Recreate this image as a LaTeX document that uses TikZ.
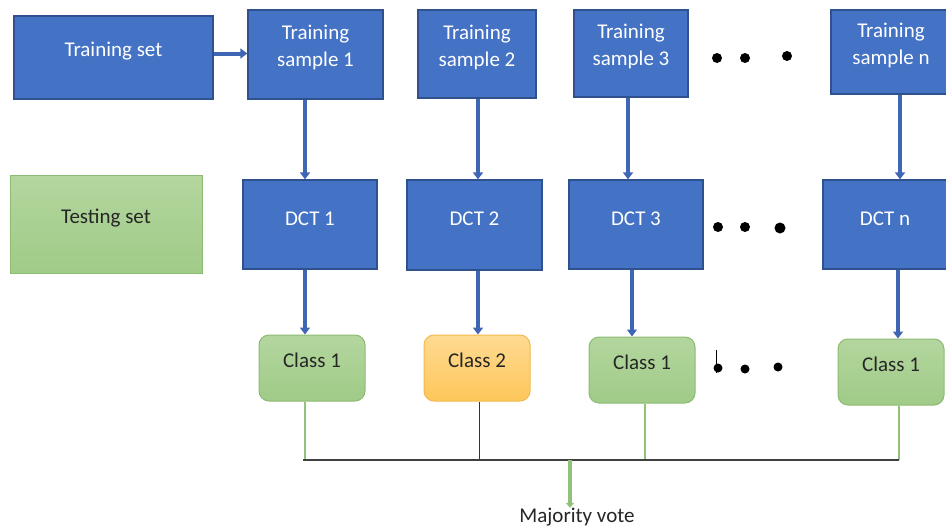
\documentclass[tikz,border=0pt]{standalone}
\usepackage{fontspec}
\setmainfont{Carlito}
\usetikzlibrary{arrows.meta}
\definecolor{bfill}{HTML}{4472C4}
\definecolor{bdraw}{HTML}{2F528F}
\definecolor{barr}{HTML}{3F66B5}
\definecolor{gtop}{HTML}{B3D69E}
\definecolor{gbot}{HTML}{A0CB88}
\definecolor{gdraw}{HTML}{8DBB72}
\definecolor{otop}{HTML}{FFDA92}
\definecolor{obot}{HTML}{FDC75A}
\definecolor{odraw}{HTML}{F2BA4C}
\definecolor{gline}{HTML}{92C27A}
\tikzset{
  bluebox/.style={draw=bdraw, line width=1.3pt, fill=bfill, inner sep=0pt},
  testbox/.style={draw=gdraw, line width=0.8pt, top color=gtop, bottom color=gbot, inner sep=0pt},
  greenbox/.style={draw=gdraw, line width=1pt, top color=gtop, bottom color=gbot, rounded corners=10pt, inner sep=0pt},
  orangebox/.style={draw=odraw, line width=1pt, top color=otop, bottom color=obot, rounded corners=10pt, inner sep=0pt},
  wtxt/.style={text=white, align=center, font=\fontsize{21}{27}\selectfont, inner sep=0pt},
  dtxt/.style={text=black!85, align=center, font=\fontsize{21}{27}\selectfont, inner sep=0pt},
  barrow/.style={draw=barr, line width=4pt, -{Triangle[width=10pt,length=7pt]}},
  gvline/.style={draw=gline, line width=1.5pt},
  kvline/.style={draw=black!80, line width=1pt},
  dotnode/.style={circle, fill=black, inner sep=0pt, minimum size=10pt},
}
\begin{document}
\begin{tikzpicture}[x=1pt,y=-1pt]
\clip (0,0) rectangle (946,530);
\fill[white] (0,0) rectangle (946,530);
% top row
\node[bluebox, minimum width=199pt, minimum height=83pt] (trs) at (113.5,57.5) {};
\node[wtxt] (trst) at ([yshift=6pt]trs.center) {Training set};
\node[bluebox, minimum width=135pt, minimum height=89pt] (s1) at (315.5,54.5) {};
\node[wtxt] (s1t) at ([yshift=7pt]s1.center) {Training\\sample 1};
\node[bluebox, minimum width=118pt, minimum height=88pt] (s2) at (477,54) {};
\node[wtxt] (s2t) at ([yshift=7pt]s2.center) {Training\\sample 2};
\node[bluebox, minimum width=114pt, minimum height=87pt] (s3) at (631,53.5) {};
\node[wtxt] (s3t) at ([yshift=7pt]s3.center) {Training\\sample 3};
\node[bluebox, minimum width=130pt, minimum height=84pt] (sn) at (896,52) {};
\node[wtxt] (snt) at ([yshift=7pt,xshift=-5pt]sn.center) {Training\\sample n};
% middle row
\node[testbox, minimum width=192pt, minimum height=98pt] (tes) at (106,224) {};
\node[dtxt] (test) at ([yshift=6pt]tes.center) {Testing set};
\node[bluebox, minimum width=134pt, minimum height=89pt] (d1) at (310,224.5) {};
\node[wtxt] (d1t) at ([yshift=6pt]d1.center) {DCT 1};
\node[bluebox, minimum width=135pt, minimum height=90pt] (d2) at (474.5,225) {};
\node[wtxt] (d2t) at ([yshift=6pt]d2.center) {DCT 2};
\node[bluebox, minimum width=134pt, minimum height=89pt] (d3) at (636,224.5) {};
\node[wtxt] (d3t) at ([yshift=6pt]d3.center) {DCT 3};
\node[bluebox, minimum width=140pt, minimum height=89pt] (dn) at (893,224.5) {};
\node[wtxt] (dnt) at ([yshift=6pt,xshift=-8pt]dn.center) {DCT n};
% class row
\node[greenbox, minimum width=106pt, minimum height=66pt] (c1) at (312,368) {};
\node[dtxt] (c1t) at ([yshift=8pt]c1.center) {Class 1};
\node[orangebox, minimum width=106pt, minimum height=66pt] (c2) at (477,368) {};
\node[dtxt] (c2t) at ([yshift=8pt]c2.center) {Class 2};
\node[greenbox, minimum width=106pt, minimum height=66pt] (c3) at (642,370) {};
\node[dtxt] (c3t) at ([yshift=8pt]c3.center) {Class 1};
\node[greenbox, minimum width=106pt, minimum height=66pt] (cn) at (891,372) {};
\node[dtxt] (cnt) at ([yshift=8pt]cn.center) {Class 1};
% dots
\node[dotnode] (t1) at (717,58) {};
\node[dotnode] (t2) at (745,58) {};
\node[dotnode] (t3) at (787,56) {};
\node[dotnode] (m1) at (718,227) {};
\node[dotnode] (m2) at (745,227) {};
\node[dotnode, minimum size=11pt] (m3) at (780,228) {};
\node[dotnode, minimum size=9pt] (b1) at (718,368) {};
\node[dotnode, minimum size=9pt] (b2) at (745,369) {};
\node[dotnode, minimum size=9pt] (b3) at (778,367) {};
\coordinate (tickT) at (716,350);
\coordinate (tickB) at (716,373);
\draw[black, line width=0.8pt] (tickT) -- (tickB);
% arrows
\draw[barrow] ([yshift=4pt]trs.east) -- ([yshift=4pt]trs.east -| s1.west);
\draw[barrow] ([xshift=-10.5pt]s1.south) -- ([xshift=-10.5pt]s1.south |- d1.north);
\draw[barrow] ([xshift=1pt]s2.south) -- ([xshift=1pt]s2.south |- d2.north);
\draw[barrow] ([xshift=-3pt]s3.south) -- ([xshift=-3pt]s3.south |- d3.north);
\draw[barrow] ([xshift=4pt]sn.south) -- ([xshift=4pt]sn.south |- dn.north);
\draw[barrow] ([xshift=-5pt]d1.south) -- ([xshift=-5pt]d1.south |- c1.north);
\draw[barrow] ([xshift=3.5pt]d2.south) -- ([xshift=3.5pt]d2.south |- c2.north);
\draw[barrow] ([xshift=-4pt]d3.south) -- ([xshift=-4pt]d3.south |- c3.north);
\draw[barrow] ([xshift=5pt]dn.south) -- ([xshift=5pt]dn.south |- cn.north);
% voting lines
\coordinate (barL) at (303,460);
\coordinate (barR) at (899,460);
\draw[gvline] ([xshift=-7pt]c1.south) -- ([xshift=-7pt]c1.south |- barL);
\draw[kvline] ([xshift=2pt]c2.south) -- ([xshift=2pt]c2.south |- barL);
\draw[gvline] ([xshift=3pt]c3.south) -- ([xshift=3pt]c3.south |- barL);
\draw[gvline] ([xshift=8pt]cn.south) -- ([xshift=8pt]cn.south |- barL);
\draw[draw=black!75, line width=1.5pt] (barL) -- (barR);
\node[dtxt] (mv) at (577,517) {Majority vote};
\coordinate (mvtop) at (570,460);
\draw[draw=gline, line width=3.5pt, -{Triangle[width=8pt,length=5pt]}] (mvtop) -- (mvtop |- mv.north);
\end{tikzpicture}
\end{document}
